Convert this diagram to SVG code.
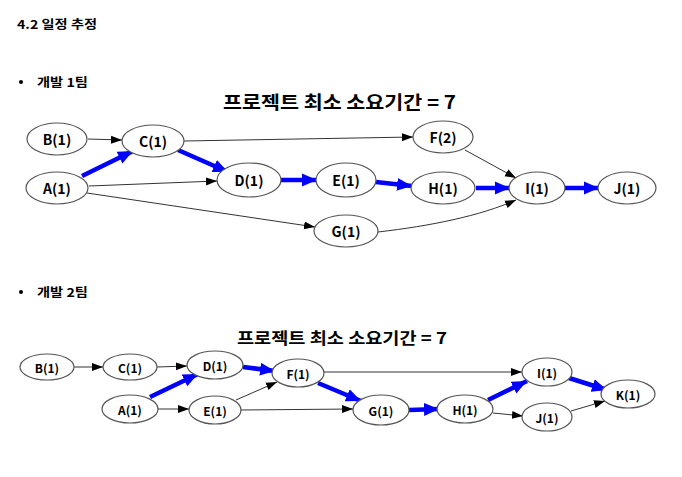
<svg xmlns="http://www.w3.org/2000/svg" width="682" height="477" viewBox="0 0 682 477">
<style>
.bg{fill:#ffffff}
.t{font-family:"Noto Sans CJK KR","Noto Sans",sans-serif;font-weight:bold;fill:#000}
.n ellipse{fill:#ffffff;stroke:#555555;stroke-width:1.2}
.n text{font-family:"Noto Sans CJK KR","Noto Sans",sans-serif;font-weight:bold;fill:#000;text-anchor:middle;dominant-baseline:central}
.d1 text{font-size:14px}
.d2 text{font-size:12px}
.e{fill:none;stroke:#333333;stroke-width:1}
.cp{fill:none;stroke:#0000ff;stroke-width:4.5}
</style>
<defs>
<marker id="ab" markerUnits="userSpaceOnUse" markerWidth="12" markerHeight="10" viewBox="0 0 12 10" refX="11" refY="5" orient="auto">
<path d="M0,1 L11,5 L0,9 Z" fill="#000"/>
</marker>
<marker id="ablue" markerUnits="userSpaceOnUse" markerWidth="16" markerHeight="14" viewBox="0 0 16 14" refX="15" refY="7" orient="auto">
<path d="M0,0.5 L15,7 L0,13.5 Z" fill="#0000ff"/>
</marker>
</defs>
<rect class="bg" x="0" y="0" width="682" height="477"/>

<text class="t" x="17" y="29" font-size="12" textLength="80" lengthAdjust="spacingAndGlyphs">4.2 일정 추정</text>
<circle cx="21" cy="82" r="2" fill="#000"/>
<text class="t" x="37" y="87" font-size="12" textLength="51" lengthAdjust="spacingAndGlyphs">개발 1팀</text>
<circle cx="21" cy="292" r="2" fill="#000"/>
<text class="t" x="37" y="297" font-size="12" textLength="51" lengthAdjust="spacingAndGlyphs">개발 2팀</text>

<text class="t" x="223" y="109" font-size="18" textLength="233" lengthAdjust="spacingAndGlyphs">프로젝트 최소 소요기간 = 7</text>
<text class="t" x="237" y="344" font-size="16" textLength="210" lengthAdjust="spacingAndGlyphs">프로젝트 최소 소요기간 = 7</text>

<g id="connectors">
<!-- team 1 -->
<path class="e" d="M88,139 L122,140" marker-end="url(#ab)"/>
<path class="cp" d="M82,176 L133,151" marker-end="url(#ablue)"/>
<path class="cp" d="M178,150 L228,172" marker-end="url(#ablue)"/>
<path class="e" d="M184,141 L413,137" marker-end="url(#ab)"/>
<path class="e" d="M89,186 L217,181" marker-end="url(#ab)"/>
<path class="e" d="M87,193 L315,227" marker-end="url(#ab)"/>
<path class="cp" d="M281,180 L317,180" marker-end="url(#ablue)"/>
<path class="cp" d="M376,182 L412,186" marker-end="url(#ablue)"/>
<path class="cp" d="M476,188 L510,188" marker-end="url(#ablue)"/>
<path class="cp" d="M565,188 L599,188" marker-end="url(#ablue)"/>
<path class="e" d="M465,150 L516,178" marker-end="url(#ab)"/>
<path class="e" d="M378,232 C430,226 480,216 516,200" marker-end="url(#ab)"/>
<!-- team 2 -->
<path class="e" d="M74,367 L103,367" marker-end="url(#ab)"/>
<path class="e" d="M157,367 L187,366" marker-end="url(#ab)"/>
<path class="cp" d="M150,397 L198,374" marker-end="url(#ablue)"/>
<path class="e" d="M158,409 L189,409" marker-end="url(#ab)"/>
<path class="cp" d="M243,367 L275,371" marker-end="url(#ablue)"/>
<path class="e" d="M236,400 L277,382" marker-end="url(#ab)"/>
<path class="e" d="M324,372 L522,372" marker-end="url(#ab)"/>
<path class="cp" d="M318,383 L361,401" marker-end="url(#ablue)"/>
<path class="e" d="M241,410 L353,409" marker-end="url(#ab)"/>
<path class="cp" d="M409,410 L439,409" marker-end="url(#ablue)"/>
<path class="cp" d="M488,400 L527,381" marker-end="url(#ablue)"/>
<path class="e" d="M493,413 L523,416" marker-end="url(#ab)"/>
<path class="cp" d="M569,378 L607,390" marker-end="url(#ablue)"/>
<path class="e" d="M571,411 L605,401" marker-end="url(#ab)"/>
</g>

<g class="n d1">
<g id="t1-B"><ellipse cx="57" cy="139" rx="30" ry="16"/><text x="57" y="139">B(1)</text></g>
<g id="t1-C"><ellipse cx="153" cy="141" rx="31" ry="16"/><text x="153" y="141">C(1)</text></g>
<g id="t1-A"><ellipse cx="57" cy="188" rx="31" ry="16"/><text x="57" y="188">A(1)</text></g>
<g id="t1-D"><ellipse cx="249" cy="180" rx="32" ry="17"/><text x="249" y="180">D(1)</text></g>
<g id="t1-E"><ellipse cx="346" cy="180" rx="30" ry="17"/><text x="346" y="180">E(1)</text></g>
<g id="t1-G"><ellipse cx="346" cy="231" rx="32" ry="16"/><text x="346" y="231">G(1)</text></g>
<g id="t1-F"><ellipse cx="443" cy="137" rx="30" ry="16"/><text x="443" y="137">F(2)</text></g>
<g id="t1-H"><ellipse cx="443" cy="188" rx="32" ry="16"/><text x="443" y="188">H(1)</text></g>
<g id="t1-I"><ellipse cx="537" cy="188" rx="28" ry="16"/><text x="537" y="188">I(1)</text></g>
<g id="t1-J"><ellipse cx="627" cy="188" rx="29" ry="16"/><text x="627" y="188">J(1)</text></g>
</g>

<g class="n d2">
<g id="t2-B"><ellipse cx="47" cy="367" rx="27" ry="13"/><text x="47" y="367">B(1)</text></g>
<g id="t2-C"><ellipse cx="130" cy="367" rx="27" ry="13"/><text x="130" y="367">C(1)</text></g>
<g id="t2-D"><ellipse cx="215" cy="365" rx="28" ry="14"/><text x="215" y="365">D(1)</text></g>
<g id="t2-A"><ellipse cx="130" cy="409" rx="28" ry="14"/><text x="130" y="409">A(1)</text></g>
<g id="t2-E"><ellipse cx="215" cy="410" rx="26" ry="14"/><text x="215" y="410">E(1)</text></g>
<g id="t2-F"><ellipse cx="298" cy="373" rx="26" ry="14"/><text x="298" y="373">F(1)</text></g>
<g id="t2-G"><ellipse cx="381" cy="410" rx="28" ry="15"/><text x="381" y="410">G(1)</text></g>
<g id="t2-H"><ellipse cx="465" cy="409" rx="28" ry="14"/><text x="465" y="409">H(1)</text></g>
<g id="t2-I"><ellipse cx="547" cy="372" rx="25" ry="14"/><text x="547" y="372">I(1)</text></g>
<g id="t2-J"><ellipse cx="547" cy="417" rx="25" ry="14"/><text x="547" y="417">J(1)</text></g>
<g id="t2-K"><ellipse cx="628" cy="394" rx="27" ry="14"/><text x="628" y="394">K(1)</text></g>
</g>
</svg>
